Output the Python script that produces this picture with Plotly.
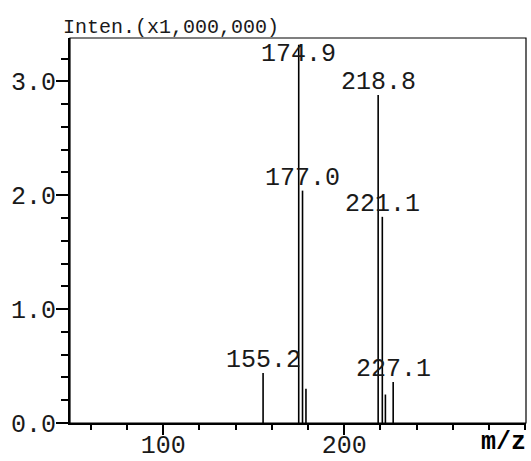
import plotly.graph_objects as go

# Peak data (m/z, intensity in x1,000,000)
mz = [155.2, 174.9, 177.0, 178.9, 218.8, 221.1, 222.8, 227.1]
inten = [0.44, 3.32, 2.04, 0.30, 2.88, 1.81, 0.25, 0.36]
labeled = [True, True, True, False, True, True, False, True]

x_ticks = [100, 200]
y_ticks = [0.0, 1.0, 2.0, 3.0]
y_tick_text = ["0.0", "1.0", "2.0", "3.0"]

XMIN, XMAX = 48.5, 300.5
YMIN, YMAX = 0.0, 3.38

FONT = "Liberation Mono"
TXT = "#1a1a1a"

xs, ys = [], []
for m, h in zip(mz, inten):
    xs += [m, m, None]
    ys += [0, h, None]

fig = go.Figure()
fig.add_trace(go.Scatter(x=xs, y=ys, mode="lines",
                         line=dict(color="black", width=1.6),
                         hoverinfo="skip", showlegend=False))

annotations = []
for m, h, lab in zip(mz, inten, labeled):
    if not lab:
        continue
    if h > YMAX - 0.25:
        annotations.append(dict(x=m, y=YMAX, xref="x", yref="y", text=f"{m:.1f}",
                                showarrow=False, xanchor="center", yanchor="top",
                                yshift=0, font=dict(family=FONT, size=25, color=TXT)))
    else:
        annotations.append(dict(x=m, y=h, xref="x", yref="y", text=f"{m:.1f}",
                                showarrow=False, xanchor="center", yanchor="bottom",
                                yshift=-4, font=dict(family=FONT, size=25, color=TXT)))

annotations.append(dict(x=0, y=1, xref="paper", yref="paper", text="Inten.(x1,000,000)",
                        showarrow=False, xanchor="left", yanchor="bottom", xshift=-9, yshift=-3,
                        font=dict(family=FONT, size=20, color=TXT)))
annotations.append(dict(x=1, y=0, xref="paper", yref="paper", text="<b>m/z</b>",
                        showarrow=False, xanchor="right", yanchor="top", xshift=2, yshift=-3,
                        font=dict(family=FONT, size=25, color="black")))

fig.update_layout(
    width=531, height=461,
    margin=dict(l=70, r=5, t=38, b=38),
    paper_bgcolor="white", plot_bgcolor="white",
    annotations=annotations,
    shapes=[dict(type="rect", xref="paper", yref="paper", x0=0, y0=0, x1=1, y1=1,
                 line=dict(color="black", width=1.2), layer="above")],
    xaxis=dict(range=[XMIN, XMAX], showgrid=False, zeroline=False, automargin=False,
               showline=True, linecolor="black", linewidth=2,
               tickmode="array", tickvals=x_ticks, ticks="outside", ticklen=10,
               tickwidth=1.5, tickcolor="black", ticklabelstandoff=-12,
               tickfont=dict(family=FONT, size=25, color=TXT),
               minor=dict(tickmode="linear", tick0=0, dtick=20, ticks="outside",
                          ticklen=5, tickwidth=1.5, tickcolor="black")),
    yaxis=dict(range=[YMIN, YMAX], showgrid=False, zeroline=False, automargin=False,
               showline=True, linecolor="black", linewidth=2,
               tickmode="array", tickvals=y_ticks, ticktext=y_tick_text,
               ticks="outside", ticklen=12, tickwidth=1.5, tickcolor="black",
               ticklabelstandoff=-5,
               tickfont=dict(family=FONT, size=25, color=TXT),
               minor=dict(tickmode="linear", tick0=0, dtick=0.2, ticks="outside",
                          ticklen=7, tickwidth=1.5, tickcolor="black")),
)

fig.write_html("out.html")
